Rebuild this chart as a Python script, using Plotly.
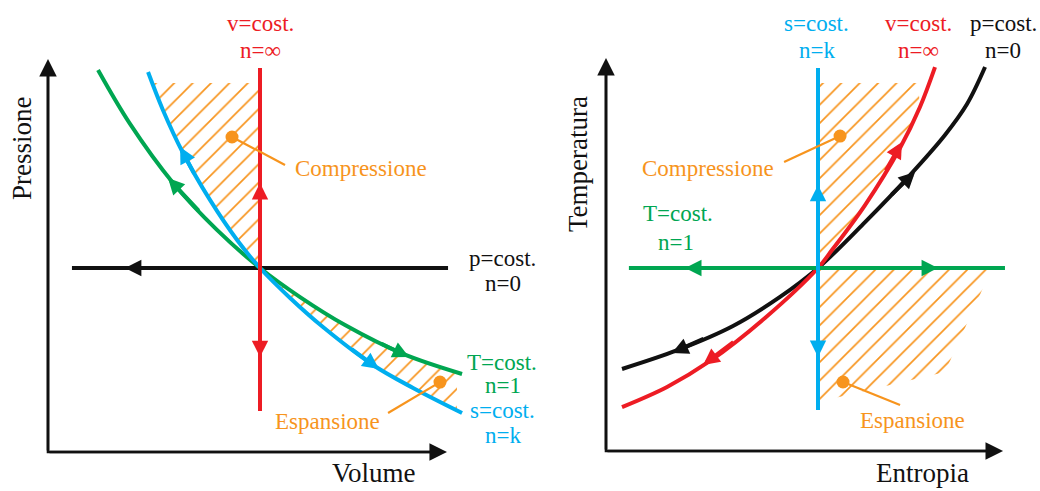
import plotly.graph_objects as go

# Colours
RED = "#ED1C24"
GREEN = "#00A651"
BLUE = "#00AEEF"
ORANGE = "#F7941D"
BLACK = "#111111"
FONT = "Liberation Serif"

# ---------------- P-V plane: state point at V = 1, p = 1 ----------------
pv_green_v = [0.236, 0.387, 0.590, 0.797, 1.0, 1.189, 1.401, 1.675, 1.953]   # T = cost.
pv_green_p = [2.076, 1.783, 1.462, 1.207, 1.0, 0.842, 0.690, 0.533, 0.424]
pv_blue_v = [0.472, 0.542, 0.637, 0.764, 0.892, 1.0, 1.142, 1.297, 1.533, 1.722, 1.953]  # s = cost.
pv_blue_p = [2.065, 1.859, 1.625, 1.370, 1.152, 1.0, 0.837, 0.679, 0.473, 0.348, 0.212]
pv_red_v = [1.0, 1.0]            # v = cost.
pv_red_p = [0.223, 2.087]
pv_black_v = [0.113, 1.887]      # p = cost.
pv_black_p = [1.0, 1.0]

pv_compr_v = [1.0, 0.892, 0.764, 0.637, 0.542, 0.492, 1.0]
pv_compr_p = [1.0, 1.152, 1.370, 1.625, 1.859, 2.005, 2.005]
pv_espan_v = [1.0, 1.189, 1.401, 1.675, 1.929, 1.929, 1.722, 1.533, 1.297, 1.142, 1.0]
pv_espan_p = [1.0, 0.842, 0.690, 0.533, 0.436, 0.226, 0.348, 0.473, 0.679, 0.837, 1.0]

# direction arrows: colour, tip (v, p), tail (v, p)
pv_arrows = [
    (GREEN, 0.566, 1.489, 0.717, 1.304),
    (GREEN, 1.703, 0.516, 1.566, 0.592),
    (BLUE, 0.623, 1.658, 0.693, 1.505),
    (BLUE, 1.561, 0.451, 1.425, 0.565),
    (RED, 1.0, 1.462, 1.0, 1.288),
    (RED, 1.0, 0.516, 1.0, 0.690),
    (BLACK, 0.363, 1.0, 0.528, 1.0),
]

# ---------------- T-s plane: state point at s = 1, T = 1 ----------------
ts_blue_s = [1.0, 1.0]           # s = cost.
ts_blue_t = [0.224, 2.093]
ts_green_s = [0.108, 1.882]      # T = cost.
ts_green_t = [1.0, 1.0]
ts_red_s = [0.0755, 0.288, 0.491, 0.750, 1.0, 1.066, 1.222, 1.387, 1.481, 1.552]  # v = cost.
ts_red_t = [0.240, 0.350, 0.492, 0.727, 1.0, 1.098, 1.344, 1.656, 1.880, 2.098]
ts_black_s = [0.0755, 0.340, 0.599, 0.821, 1.0, 1.222, 1.434, 1.599, 1.703, 1.788]  # p = cost.
ts_black_t = [0.448, 0.552, 0.683, 0.842, 1.0, 1.251, 1.508, 1.727, 1.896, 2.098]

ts_compr_s = [1.0, 1.0, 1.472, 1.481, 1.387, 1.222, 1.066, 1.0]
ts_compr_t = [1.0, 2.011, 2.011, 1.880, 1.656, 1.344, 1.098, 1.0]
ts_espan_s = [1.0, 1.821, 1.599, 1.0]
ts_espan_t = [1.0, 1.0, 0.432, 0.268]

ts_arrows = [
    (BLUE, 1.0, 1.454, 1.0, 1.290),
    (BLUE, 1.0, 0.514, 1.0, 0.689),
    (GREEN, 0.373, 1.0, 0.538, 1.0),
    (GREEN, 1.566, 1.0, 1.410, 1.0),
    (RED, 1.396, 1.689, 1.316, 1.525),
    (RED, 0.458, 0.470, 0.608, 0.601),
    (BLACK, 1.458, 1.525, 1.340, 1.393),
    (BLACK, 0.311, 0.536, 0.467, 0.617),
]

# callouts: dot (x, y), leader end (x, y), label position (x, y), label, anchor
pv_callouts = [
    (0.868, 1.712, 1.118, 1.560, 1.156, 1.543, "Compressione", "left"),
    (1.849, 0.380, 1.604, 0.212, 1.575, 0.168, "Espansione", "right"),
]
ts_callouts = [
    (1.104, 1.721, 0.840, 1.579, 0.802, 1.546, "Compressione", "right"),
    (1.118, 0.377, 1.387, 0.251, 1.448, 0.164, "Espansione", "center"),
]

# process labels: text, colour, x, y
pv_labels = [
    ("v=cost.", RED, 1.0, 2.327), ("n=∞", RED, 1.0, 2.182),
    ("p=cost.", BLACK, 2.142, 1.054), ("n=0", BLACK, 2.146, 0.918),
    ("T=cost.", GREEN, 2.142, 0.484), ("n=1", GREEN, 2.146, 0.364),
    ("s=cost.", BLUE, 2.142, 0.228), ("n=k", BLUE, 2.146, 0.092),
]
ts_labels = [
    ("s=cost.", BLUE, 0.995, 2.334), ("n=k", BLUE, 0.995, 2.188),
    ("v=cost.", RED, 1.476, 2.334), ("n=∞", RED, 1.476, 2.188),
    ("p=cost.", BLACK, 1.873, 2.334), ("n=0", BLACK, 1.873, 2.188),
    ("T=cost.", GREEN, 0.340, 1.300), ("n=1", GREEN, 0.330, 1.137),
]

# axis ends and titles (bottom titles sit on the lower edge)
pv_axis_top, pv_axis_right = 2.136, 1.882
ts_axis_top, ts_axis_right = 2.148, 1.873
pv_titles = [("Pressione", -0.123, 1.652, -90, "middle"),
             ("Volume", 1.538, -0.204, 0, "bottom")]
ts_titles = [("Temperatura", -0.132, 1.568, -90, "middle"),
             ("Entropia", 1.491, -0.211, 0, "bottom")]

fig = go.Figure()
annotations = []


def hatch(xs, ys, xa, ya):
    fig.add_trace(go.Scatter(
        x=xs, y=ys, xaxis=xa, yaxis=ya, mode="lines", fill="toself",
        line=dict(width=0, color="rgba(0,0,0,0)"), fillcolor="rgba(0,0,0,0)",
        fillpattern=dict(shape="/", size=13, solidity=0.13, fgcolor=ORANGE,
                         fgopacity=1, bgcolor="rgba(0,0,0,0)"),
        hoverinfo="skip"))


def curve(xs, ys, color, xa, ya, smooth=True):
    fig.add_trace(go.Scatter(
        x=xs, y=ys, xaxis=xa, yaxis=ya, mode="lines",
        line=dict(color=color, width=4, shape="spline" if smooth else "linear",
                  smoothing=1.0),
        hoverinfo="skip"))


def axes(top, right, xa, ya):
    fig.add_trace(go.Scatter(
        x=[0, 0, right * 0.97], y=[top * 0.97, 0, 0], xaxis=xa, yaxis=ya,
        mode="lines", line=dict(color=BLACK, width=2.6), hoverinfo="skip"))
    for tx, ty in ((0, top), (right, 0)):
        annotations.append(dict(
            x=tx, y=ty, ax=0, ay=0, xref=xa, yref=ya, axref=xa, ayref=ya,
            text="", showarrow=True, arrowhead=2, arrowsize=1.35,
            arrowwidth=2.6, arrowcolor=BLACK))


def arrows(items, xa, ya):
    for color, tx, ty, sx, sy in items:
        annotations.append(dict(
            x=tx, y=ty, ax=sx, ay=sy, xref=xa, yref=ya, axref=xa, ayref=ya,
            text="", showarrow=True, arrowhead=2, arrowsize=0.82,
            arrowwidth=4, arrowcolor=color))


def callouts(items, xa, ya):
    for dx, dy, lx, ly, tx, ty, label, anchor in items:
        fig.add_trace(go.Scatter(
            x=[dx, lx], y=[dy, ly], xaxis=xa, yaxis=ya, mode="lines",
            line=dict(color=ORANGE, width=2.2), hoverinfo="skip"))
        fig.add_trace(go.Scatter(
            x=[dx], y=[dy], xaxis=xa, yaxis=ya, mode="markers",
            marker=dict(color=ORANGE, size=13), hoverinfo="skip"))
        annotations.append(dict(
            x=tx, y=ty, xref=xa, yref=ya, text=label, showarrow=False,
            xanchor=anchor, yanchor="middle",
            font=dict(family=FONT, size=23, color=ORANGE)))


def labels(items, xa, ya):
    for text, color, x, y in items:
        annotations.append(dict(
            x=x, y=y, xref=xa, yref=ya, text=text, showarrow=False,
            xanchor="center", yanchor="middle",
            font=dict(family=FONT, size=23, color=color)))


def titles(items, xa, ya):
    for text, x, y, ang, yanchor in items:
        annotations.append(dict(
            x=x, y=y, xref=xa, yref=ya, text=text, showarrow=False,
            textangle=ang, xanchor="center", yanchor=yanchor,
            font=dict(family=FONT, size=27, color=BLACK)))


# P-V diagram
hatch(pv_compr_v, pv_compr_p, "x", "y")
hatch(pv_espan_v, pv_espan_p, "x", "y")
axes(pv_axis_top, pv_axis_right, "x", "y")
curve(pv_black_v, pv_black_p, BLACK, "x", "y", smooth=False)
curve(pv_green_v, pv_green_p, GREEN, "x", "y")
curve(pv_blue_v, pv_blue_p, BLUE, "x", "y")
curve(pv_red_v, pv_red_p, RED, "x", "y", smooth=False)
arrows(pv_arrows, "x", "y")
callouts(pv_callouts, "x", "y")
labels(pv_labels, "x", "y")
titles(pv_titles, "x", "y")

# T-s diagram
hatch(ts_compr_s, ts_compr_t, "x2", "y2")
hatch(ts_espan_s, ts_espan_t, "x2", "y2")
axes(ts_axis_top, ts_axis_right, "x2", "y2")
curve(ts_black_s, ts_black_t, BLACK, "x2", "y2")
curve(ts_red_s, ts_red_t, RED, "x2", "y2")
curve(ts_green_s, ts_green_t, GREEN, "x2", "y2", smooth=False)
curve(ts_blue_s, ts_blue_t, BLUE, "x2", "y2", smooth=False)
arrows(ts_arrows, "x2", "y2")
callouts(ts_callouts, "x2", "y2")
labels(ts_labels, "x2", "y2")
titles(ts_titles, "x2", "y2")

W, H = 1040, 491
hidden = dict(visible=False, fixedrange=True)
fig.update_layout(
    width=W, height=H, margin=dict(l=0, r=0, t=0, b=0),
    paper_bgcolor="white", plot_bgcolor="white", showlegend=False,
    xaxis=dict(domain=[0, 0.5], range=[-48 / 212, 472 / 212], **hidden),
    yaxis=dict(domain=[0, 1], range=[-39 / 184, 452 / 184], **hidden),
    xaxis2=dict(domain=[0.5, 1], range=[-86 / 212, 434 / 212], **hidden),
    yaxis2=dict(domain=[0, 1], range=[-40 / 183, 451 / 183], anchor="x2", **hidden),
    annotations=annotations,
)

fig.write_html("out.html")
